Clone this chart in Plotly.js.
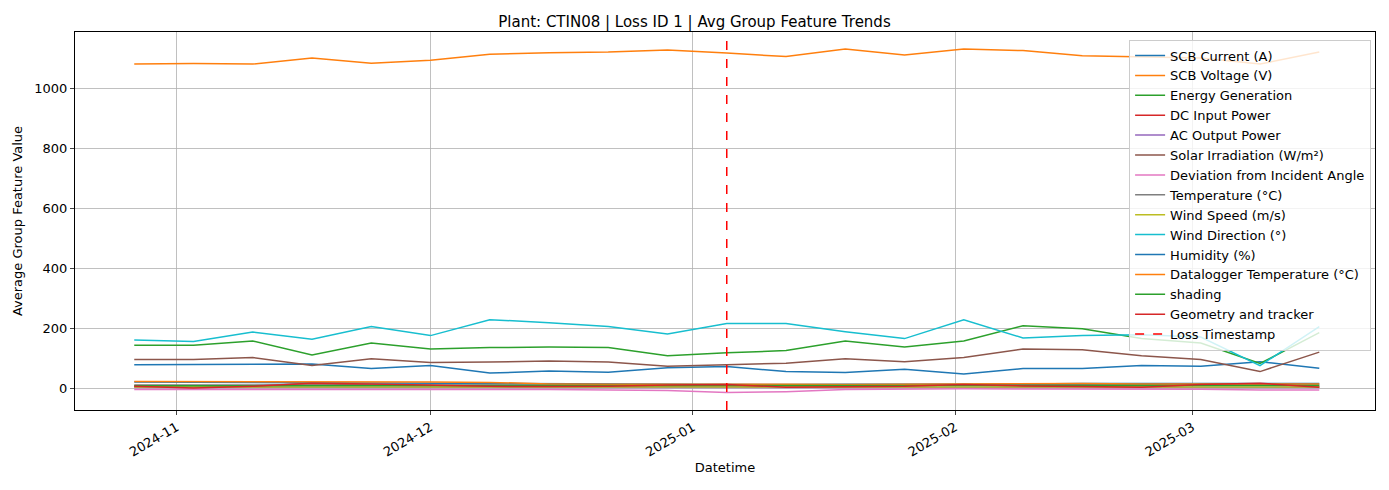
<!DOCTYPE html>
<html>
<head>
<meta charset="utf-8">
<script src="https://cdn.plot.ly/plotly-3.0.1.min.js"></script>
<style>body{margin:0;} #chart{width:1389px;height:490px;}</style>
</head>
<body>
<div id="chart"></div>
<script>
const dates = ["2024-10-27","2024-11-03","2024-11-10","2024-11-17","2024-11-24","2024-12-01","2024-12-08",
  "2024-12-15","2024-12-22","2024-12-29","2025-01-05","2025-01-12","2025-01-19","2025-01-26","2025-02-02",
  "2025-02-09","2025-02-16","2025-02-23","2025-03-02","2025-03-09","2025-03-16"];

const scbCurrent = [78,78,78,80,65,75,50,57,53,68,72,55,52,63,47,65,65,75,73,88,66];
const scbVoltage = [1080,1082,1080,1100,1083,1093,1113,1118,1120,1127,1117,1105,1130,1110,1130,1125,1108,1105,1100,1080,1120];
const energyGen = [143,143,157,110,150,130,135,137,135,108,118,125,157,137,157,208,198,165,150,82,185];
const dcInput = [5,3,8,15,10,8,6,7,6,7,8,5,6,7,10,8,6,5,10,14,5];
const acOutput = [2,2,2,3,2,2,1,2,1,2,2,2,2,2,3,2,2,2,2,3,2];
const solarIrr = [95,95,102,75,98,85,87,90,87,73,78,83,98,88,102,130,128,108,95,55,120];
const deviation = [-5,-5,-3,-3,-4,-4,-5,-5,-6,-8,-15,-12,-5,-3,-2,-3,-3,-4,-4,-6,-6];
const temperature = [10,10,11,12,11,11,10,10,9,9,9,9,10,10,11,11,12,11,11,10,10];
const windSpeed = [4,4,5,5,4,4,4,4,3,4,4,4,4,4,4,4,4,4,4,5,4];
const windDir = [160,155,187,163,205,175,228,218,205,180,215,215,188,165,228,167,175,178,170,75,205];
const humidity = [20,20,20,18,17,16,15,14,14,13,12,12,13,13,12,14,15,15,14,16,15];
const dlTemp = [22,22,22,20,20,20,19,14,13,13,15,13,12,13,14,14,15,14,14,15,14];
const shading = [8,8,8,9,9,9,8,8,8,8,8,8,8,9,9,9,9,9,9,9,9];
const geometry = [6,0,6,16,14,10,6,5,6,10,12,3,5,6,12,7,5,3,12,16,3];
const lossX = ["2025-01-05","2025-01-05"];
const lossY = [-73,1187];

const names = ["SCB Current (A)","SCB Voltage (V)","Energy Generation","DC Input Power","AC Output Power",
  "Solar Irradiation (W/m²)","Deviation from Incident Angle","Temperature (°C)","Wind Speed (m/s)",
  "Wind Direction (°)","Humidity (%)","Datalogger Temperature (°C)","shading","Geometry and tracker"];
const series = [scbCurrent,scbVoltage,energyGen,dcInput,acOutput,solarIrr,deviation,temperature,windSpeed,
  windDir,humidity,dlTemp,shading,geometry];
const colors = ["#1f77b4","#ff7f0e","#2ca02c","#d62728","#9467bd","#8c564b","#e377c2","#7f7f7f","#bcbd22",
  "#17becf","#1f77b4","#ff7f0e","#2ca02c","#d62728"];

const traces = series.map((ys, i) => ({
  x: dates, y: ys, mode: "lines", name: names[i],
  line: {color: colors[i], width: 1.5}
}));
traces.push({
  x: lossX, y: lossY, mode: "lines", name: "Loss Timestamp",
  line: {color: "red", width: 1.5, dash: "dash"}
});

const axisFont = {family: "DejaVu Sans", size: 13, color: "black"};
const layout = {
  width: 1389, height: 490,
  margin: {l: 75, r: 14, t: 32, b: 80},
  paper_bgcolor: "white", plot_bgcolor: "white",
  font: {family: "DejaVu Sans", size: 13, color: "black"},
  title: {text: "Plant: CTIN08 | Loss ID 1 | Avg Group Feature Trends",
    font: {family: "DejaVu Sans", size: 15}, x: 0.5, y: 0.955, yanchor: "middle"},
  xaxis: {
    type: "date", range: ["2024-10-20", "2025-03-22 14:00"],
    tickvals: ["2024-11-01","2024-12-01","2025-01-01","2025-02-01","2025-03-01"],
    ticktext: ["2024-11","2024-12","2025-01","2025-02","2025-03"],
    tickangle: -30, ticks: "outside", ticklen: 4,
    showgrid: true, gridcolor: "#b0b0b0", gridwidth: 0.8,
    showline: true, mirror: true, linecolor: "black", linewidth: 1, zeroline: false,
    tickfont: axisFont,
    title: {text: "Datetime", font: axisFont, standoff: 4}
  },
  yaxis: {
    range: [-73, 1187], tickvals: [0,200,400,600,800,1000],
    ticks: "outside", ticklen: 4,
    showgrid: true, gridcolor: "#b0b0b0", gridwidth: 0.8,
    showline: true, mirror: true, linecolor: "black", linewidth: 1, zeroline: false,
    tickfont: axisFont,
    title: {text: "Average Group Feature Value", font: axisFont, standoff: 8}
  },
  legend: {x: 0.997, y: 0.98, xanchor: "right", yanchor: "top",
    bgcolor: "rgba(255,255,255,0.8)", bordercolor: "#cccccc", borderwidth: 1,
    font: {family: "DejaVu Sans", size: 13}, tracegroupgap: 0},
  showlegend: true
};

Plotly.newPlot("chart", traces, layout, {displayModeBar: false, staticPlot: true});
</script>
</body>
</html>
